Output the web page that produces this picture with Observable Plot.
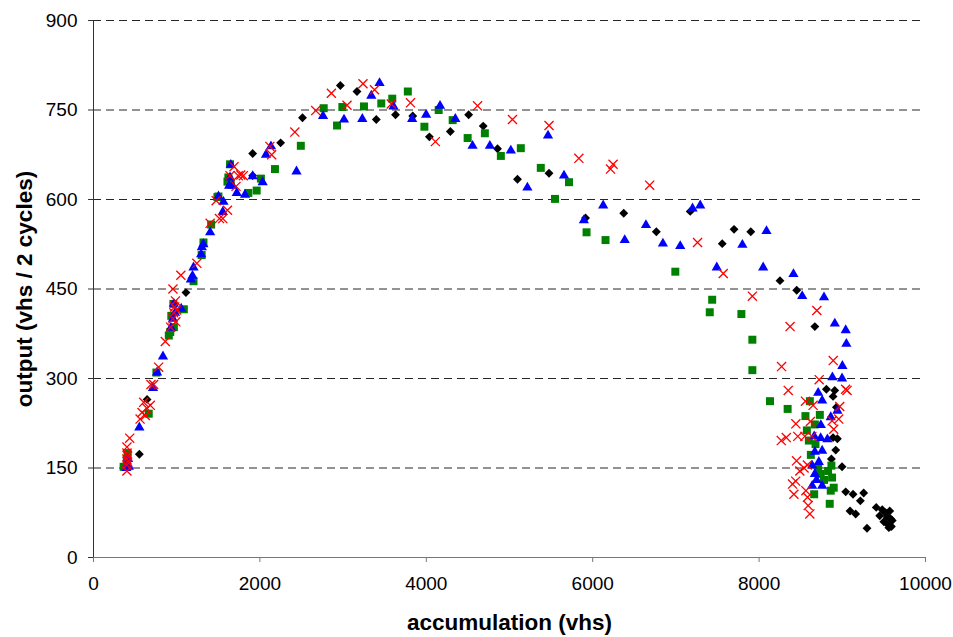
<!DOCTYPE html>
<html>
<head>
<meta charset="utf-8">
<script src="https://cdn.jsdelivr.net/npm/d3@7"></script>
<script src="https://cdn.jsdelivr.net/npm/@observablehq/plot@0.6"></script>
<style>
  html, body { margin: 0; padding: 0; background: #fff; }
  #chart { width: 953px; height: 637px; }
</style>
</head>
<body>
<div id="chart"></div>
<script>
const xTicks = [0, 2000, 4000, 6000, 8000, 10000];
const yTicks = [0, 150, 300, 450, 600, 750, 900];
const gridTicks = [150, 300, 450, 600, 750, 900];
const xLabel = "accumulation (vhs)";
const yLabel = "output (vhs / 2 cycles)";

// series: [accumulation, output]
const blackSeries = [
  [551,173],[644,265],[1111,444],[1913,677],[1913,640],[2249,695],[2512,737],[2967,791],[3167,781],
  [3399,734],[3630,742],[3837,740],[4037,705],[4289,714],[4509,742],[4684,723],[4856,685],[5096,634],
  [5475,644],[5914,569],[6373,577],[6765,546],[7172,580],[7557,526],[7699,550],[7900,546],[8251,464],
  [8452,448],[8670,387],[8809,282],[8909,280],[8889,270],[8929,252],[8941,199],[8889,201],[8921,180],
  [8869,165],[8997,152],[9041,110],[9129,106],[9257,108],[9217,95],[9093,78],[9161,73],[9408,84],
  [9297,49],[9450,70],[9500,60],[9520,75],[9550,55],[9580,65],[9560,50],[9600,62],[9540,68],[9480,80],
  [9570,78],[9590,52]
];
const blueSeries = [
  [395,150],[410,157],[425,152],[415,165],[551,218],[715,284],[764,310],[835,337],[930,385],[955,400],
  [966,425],[980,410],[1054,417],[1170,466],[1190,472],[1202,486],[1294,508],[1302,520],[1320,525],
  [1402,545],[1502,605],[1554,579],[1562,596],[1630,623],[1641,637],[1650,658],[1670,623],[1722,611],
  [1821,608],[1913,639],[2033,629],[2073,675],[2133,689],[2440,647],[2759,740],[3011,734],[3231,735],
  [3339,774],[3438,795],[3606,756],[3830,735],[3998,742],[4165,757],[4349,735],[4556,690],[4764,690],
  [5016,682],[5215,620],[5463,707],[5655,640],[5894,565],[6126,590],[6385,532],[6640,557],[6844,526],
  [7052,522],[7200,585],[7292,590],[7491,486],[7799,524],[8049,486],[8089,547],[8413,475],[8518,438],
  [8780,436],[8910,392],[9041,381],[9049,358],[9001,321],[8881,302],[8997,300],[8710,276],[8758,263],
  [8861,235],[8941,246],[8742,222],[8821,198],[8662,203],[8740,200],[8670,177],[8758,179],[8638,154],
  [8718,160],[8670,140],[8638,120],[8758,120],[8690,130]
];
const greenSeries = [
  [362,152],[400,165],[410,175],[664,241],[756,310],[905,372],[923,378],[935,405],[960,425],[966,386],
  [1086,416],[1202,463],[1300,507],[1322,528],[1414,558],[1489,604],[1502,605],[1610,630],[1621,637],
  [1641,659],[1650,626],[1861,611],[1961,615],[2012,635],[2181,651],[2492,690],[2767,753],[2927,724],
  [2991,755],[3251,756],[3459,761],[3591,769],[3778,781],[3977,722],[4149,750],[4317,733],[4497,703],
  [4704,711],[4896,673],[5136,686],[5376,653],[5547,601],[5715,629],[5926,545],[6154,532],[6993,479],
  [7407,411],[7436,432],[7787,408],[7919,365],[7919,314],[8131,262],[8343,249],[8610,262],[8730,239],
  [8557,237],[8670,223],[8574,213],[8598,196],[8678,190],[8622,172],[8710,151],[8829,145],[8869,154],
  [8877,134],[8897,117],[8861,112],[8662,106],[8849,90],[8780,130],[8740,140]
];
const redSeries = [
  [402,145],[402,155],[402,165],[402,175],[402,185],[410,160],[410,170],[435,200],[560,232],[583,243],
  [603,260],[623,238],[643,250],[683,255],[691,290],[723,290],[783,319],[863,362],[926,386],[955,400],
  [965,410],[975,420],[985,430],[955,450],[1000,415],[990,395],[1050,473],[1242,493],[1402,560],
  [1474,598],[1514,568],[1554,568],[1610,582],[1641,640],[1689,655],[1713,622],[1740,640],[1770,641],
  [1801,640],[2120,689],[2141,675],[2420,713],[2671,749],[2859,778],[3047,758],[3239,794],[3378,784],
  [3579,760],[3810,762],[4109,697],[4616,757],[5036,734],[5475,724],[5834,669],[6214,651],[6245,659],
  [6685,624],[7260,528],[7569,476],[7919,438],[8270,320],[8372,387],[8694,414],[8891,330],[9057,280],
  [9040,282],[8969,253],[8957,232],[8877,229],[8897,215],[8442,224],[8617,228],[8557,262],[8649,255],
  [8350,280],[8722,298],[8267,196],[8327,201],[8465,203],[8550,203],[8634,203],[8450,162],[8490,145],
  [8540,150],[8580,155],[8402,123],[8440,128],[8418,106],[8562,112],[8582,101],[8590,87],[8610,73]
];

const X = d => d[0], Y = d => d[1];

const chart = Plot.plot({
  width: 953,
  height: 637,
  marginLeft: 93,
  marginRight: 28,
  marginTop: 20,
  marginBottom: 80,
  style: { fontFamily: "'Liberation Sans', Arial, sans-serif", fontSize: "19px", color: "#000", background: "#fff" },
  x: { domain: [0, 10000] },
  y: { domain: [0, 900] },
  marks: [
    Plot.gridY(gridTicks, { stroke: "#000", strokeOpacity: 0.85, strokeDasharray: "8,5" }),
    Plot.axisX({ ticks: xTicks, tickFormat: d => String(d), tickSize: 5, tickPadding: 14, stroke: "#777", label: null, fontSize: 19 }),
    Plot.axisY({ ticks: yTicks, tickFormat: d => String(d), tickSize: 5, tickPadding: 11, stroke: "#333", label: null, fontSize: 19 }),
    Plot.ruleX([0], { stroke: "#333" }),
    Plot.ruleY([0], { stroke: "#777" }),
    Plot.dot(blackSeries, { x: X, y: Y, symbol: "diamond2", fill: "#000", r: 4 }),
    Plot.dot(greenSeries, { x: X, y: Y, symbol: "square", fill: "#008000", r: 4.5 }),
    Plot.dot(blueSeries, { x: X, y: Y, symbol: "triangle", fill: "#0000ff", r: 3.8 }),
    Plot.dot(redSeries, { x: X, y: Y, symbol: "times", stroke: "#ff0000", fill: "none", strokeWidth: 1.3, r: 4.2 }),
    Plot.text([xLabel], { frameAnchor: "bottom", dy: 65, fontWeight: "bold", fontSize: 22.5, fill: "#000", textAnchor: "middle", lineAnchor: "middle" }),
    Plot.text([yLabel], { frameAnchor: "left", dx: -69, rotate: -90, fontWeight: "bold", fontSize: 22.5, fill: "#000", textAnchor: "middle", lineAnchor: "middle" })
  ]
});
document.getElementById("chart").appendChild(chart);
</script>
</body>
</html>
